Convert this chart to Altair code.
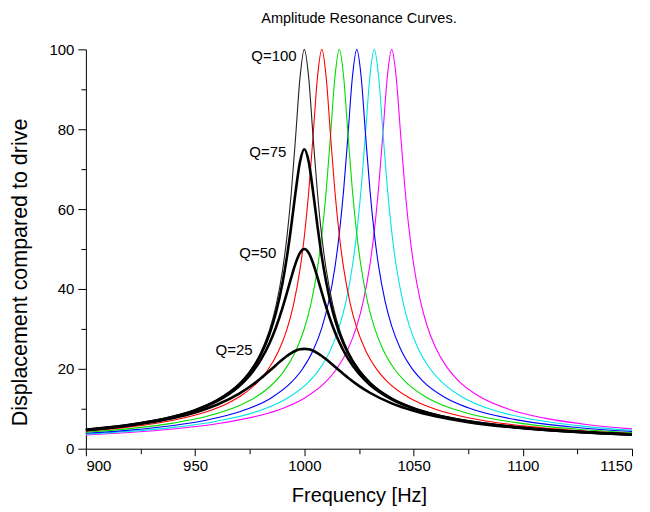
import altair as alt
import pandas as pd

FONT = "Liberation Sans"

# ---- axis ticks -------------------------------------------------------
x_ticks = [900, 925, 950, 975, 1000, 1025, 1050, 1075, 1100, 1125, 1150]
y_ticks = [0, 10, 20, 30, 40, 50, 60, 70, 80, 90, 100]

# ---- curves ----------------------------------------------------------
# Q = 100 family (resonances at 1000 ... 1040 Hz)
freq_q100_1000 = [900, 920, 940, 950, 960, 970, 975, 980, 984, 987, 990, 992, 994, 996, 998, 1000,
                  1002, 1004, 1006, 1008, 1010, 1013, 1016, 1020, 1025, 1030, 1040, 1050, 1060, 1075,
                  1100, 1125, 1150]
amp_q100_1000 = [4.73, 5.98, 8.05, 9.70, 12.15, 16.20, 19.37, 24.02, 29.60, 35.69, 44.54, 52.85, 63.9,
                 78.0, 92.8, 100, 92.9, 78.1, 64.1, 53.1, 44.9, 36.1, 30.0, 24.5, 19.85, 16.68, 12.64,
                 10.19, 8.55, 6.89, 5.23, 4.23, 3.56]

freq_q100_1008 = [900, 920, 940, 955, 965, 972, 978, 983, 988, 992, 995, 998, 1000, 1002, 1004, 1006,
                  1008, 1010, 1012, 1014, 1016, 1018, 1021, 1024, 1028, 1033, 1038, 1048, 1054, 1060,
                  1075, 1100, 1125, 1150]
amp_q100_1008 = [4.40, 5.46, 7.14, 9.21, 11.39, 13.62, 16.32, 19.52, 24.21, 29.83, 35.94, 44.83, 53.15,
                 64.2, 78.3, 92.9, 100, 93.0, 78.4, 64.4, 53.5, 45.2, 36.35, 30.26, 24.66, 20.0, 16.80,
                 12.74, 11.13, 9.89, 7.74, 5.71, 4.54, 3.78]

freq_q100_1016 = [900, 920, 940, 955, 970, 978, 986, 991, 996, 1000, 1003, 1006, 1008, 1010, 1012, 1014,
                  1016, 1018, 1020, 1022, 1024, 1026, 1029, 1032, 1036, 1041, 1046, 1056, 1065, 1075,
                  1100, 1125, 1150]
amp_q100_1016 = [4.11, 5.02, 6.41, 8.04, 10.73, 13.0, 16.45, 19.67, 24.39, 30.04, 36.19, 45.1, 53.5,
                 64.5, 78.5, 93.0, 100, 93.1, 78.6, 64.7, 53.8, 45.5, 36.6, 30.5, 24.85, 20.15, 16.93,
                 12.84, 10.55, 8.82, 6.28, 4.89, 4.02]

freq_q100_1024 = [900, 920, 940, 955, 970, 985, 994, 999, 1004, 1008, 1011, 1014, 1016, 1018, 1020, 1022,
                  1024, 1026, 1028, 1030, 1032, 1034, 1037, 1040, 1044, 1049, 1054, 1064, 1075, 1100,
                  1125, 1150]
amp_q100_1024 = [3.86, 4.65, 5.82, 7.14, 9.19, 12.77, 16.58, 19.83, 24.57, 30.26, 36.45, 45.4, 53.8,
                 64.8, 78.7, 93.0, 100, 93.2, 78.8, 65.0, 54.05, 45.7, 36.85, 30.69, 25.02, 20.3, 17.06,
                 12.94, 10.23, 6.96, 5.30, 4.30]

freq_q100_1032 = [900, 920, 940, 960, 980, 992, 1002, 1007, 1012, 1016, 1019, 1022, 1024, 1026, 1028, 1030,
                  1032, 1034, 1036, 1038, 1040, 1042, 1045, 1048, 1052, 1057, 1062, 1072, 1085, 1100,
                  1125, 1150]
amp_q100_1032 = [3.64, 4.34, 5.34, 6.89, 9.62, 12.55, 16.71, 19.98, 24.75, 30.5, 36.69, 45.68, 54.05,
                 65.1, 79.0, 93.1, 100, 93.2, 79.1, 65.3, 54.35, 46.0, 37.1, 30.9, 25.2, 20.45, 17.19,
                 13.03, 9.93, 7.81, 5.78, 4.60]

freq_q100_1040 = [900, 920, 940, 960, 980, 990, 1000, 1010, 1015, 1020, 1024, 1027, 1030, 1032, 1034, 1036,
                  1038, 1040, 1042, 1044, 1046, 1048, 1050, 1053, 1056, 1060, 1065, 1070, 1080, 1095,
                  1110, 1130, 1150]
amp_q100_1040 = [3.44, 4.06, 4.93, 6.23, 8.38, 10.09, 12.64, 16.84, 20.13, 24.93, 30.69, 36.94, 45.96,
                 54.35, 65.4, 79.2, 93.2, 100, 93.3, 79.3, 65.6, 54.6, 46.3, 37.3, 31.1, 25.4, 20.6,
                 17.31, 13.13, 9.65, 7.65, 6.01, 4.96]

# Lower-Q curves, all resonating at 1000 Hz
freq_low_q = [900, 920, 940, 950, 960, 970, 975, 980, 984, 987, 990, 992, 994, 996, 998, 1000,
              1002, 1004, 1006, 1008, 1010, 1013, 1016, 1020, 1025, 1030, 1040, 1050, 1060, 1075,
              1100, 1125, 1150]
amp_q75 = [4.73, 5.97, 8.03, 9.66, 12.08, 16.03, 19.10, 23.50, 28.65, 34.04, 41.46, 47.9, 55.7, 64.3,
           71.8, 75, 71.85, 64.35, 55.8, 48.1, 41.75, 34.4, 29.04, 23.92, 19.55, 16.50, 12.56, 10.15,
           8.52, 6.88, 5.23, 4.23, 3.56]
amp_q50 = [4.72, 5.95, 7.97, 9.56, 11.89, 15.59, 18.37, 22.18, 26.34, 30.36, 35.27, 38.98, 42.84, 46.41,
           49.03, 50, 49.03, 46.44, 42.91, 39.10, 35.44, 30.61, 26.65, 22.54, 18.77, 16.02, 12.35, 10.04,
           8.45, 6.84, 5.21, 4.22, 3.56]
amp_q25 = [4.65, 5.82, 7.68, 9.08, 11.0, 13.72, 15.5, 17.59, 19.46, 20.92, 22.34, 23.2, 23.94, 24.51,
           24.88, 25, 24.88, 24.52, 23.95, 23.22, 22.38, 21.0, 19.58, 17.76, 15.73, 14.01, 11.35, 9.48,
           8.11, 6.66, 5.13, 4.18, 3.53]

# curve labels
label_text = ["Q=100", "Q=75", "Q=50", "Q=25"]
label_freq = [996.5, 991.8, 987.2, 976.3]
label_amp = [98.3, 74.3, 49.1, 24.6]

# ---- styling -----------------------------------------------------------
curves = [
    (freq_q100_1040, amp_q100_1040, "#ff00ff", 1.1),
    (freq_q100_1032, amp_q100_1032, "#00e6e6", 1.1),
    (freq_q100_1024, amp_q100_1024, "#0000ff", 1.1),
    (freq_q100_1016, amp_q100_1016, "#00dd00", 1.1),
    (freq_q100_1008, amp_q100_1008, "#ff0000", 1.1),
    (freq_q100_1000, amp_q100_1000, "#222222", 1.1),
    (freq_low_q, amp_q75, "#000000", 2.6),
    (freq_low_q, amp_q50, "#000000", 2.6),
    (freq_low_q, amp_q25, "#000000", 2.6),
]

x_scale = alt.Scale(domain=[900, 1150], nice=False, zero=False)
y_scale = alt.Scale(domain=[0, 100], nice=False)

x_axis = alt.Axis(
    values=x_ticks,
    format="d",
    labelExpr="datum.value % 50 === 0 ? datum.label : ''",
    tickSize={"condition": {"test": "datum.value % 50 === 0", "value": 7}, "value": 5},
    labelFontSize=15,
    labelPadding=3,
    title="Frequency [Hz]",
    titleFontSize=20,
    titlePadding=12,
)
y_axis = alt.Axis(
    values=y_ticks,
    format="d",
    labelExpr="datum.value % 20 === 0 ? datum.label : ''",
    tickSize={"condition": {"test": "datum.value % 20 === 0", "value": 8}, "value": 5},
    labelFontSize=15,
    labelPadding=4,
    title="Displacement compared to drive",
    titleFontSize=21.5,
    titleX=-54,
    titleY=223,
)

layers = []
for freqs, amps, color, width in curves:
    df = pd.DataFrame({"freq": freqs, "amp": amps})
    layers.append(
        alt.Chart(df)
        .mark_line(color=color, strokeWidth=width, interpolate="monotone")
        .encode(
            x=alt.X("freq:Q", scale=x_scale, axis=x_axis),
            y=alt.Y("amp:Q", scale=y_scale, axis=y_axis),
        )
    )

labels_df = pd.DataFrame({"freq": label_freq, "amp": label_amp, "text": label_text})
layers.append(
    alt.Chart(labels_df)
    .mark_text(align="right", baseline="middle", fontSize=15, font=FONT, color="black")
    .encode(
        x=alt.X("freq:Q", scale=x_scale, axis=x_axis),
        y=alt.Y("amp:Q", scale=y_scale, axis=y_axis),
        text="text:N",
    )
)

chart = (
    alt.layer(*layers)
    .properties(
        width=547,
        height=400,
        autosize=alt.AutoSizeParams(type="none"),
        padding={"left": 78, "top": 41, "right": 10, "bottom": 63},
        title=alt.TitleParams(
            "Amplitude Resonance Curves.",
            fontSize=14.5,
            font=FONT,
            fontWeight="normal",
            anchor="middle",
            offset=16,
            color="black",
        ),
    )
    .configure_view(stroke=None)
    .configure_axis(
        grid=False,
        domainColor="black",
        tickColor="black",
        labelColor="black",
        titleColor="black",
        labelFont=FONT,
        titleFont=FONT,
        titleFontWeight="normal",
        domainWidth=1,
        tickWidth=1,
    )
)

chart.save("out.html", embed_options={"renderer": "svg", "actions": False})
